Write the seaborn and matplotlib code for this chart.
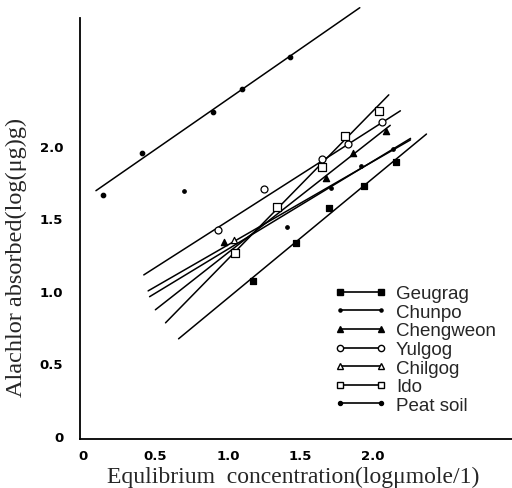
import numpy as np
import pandas as pd
import matplotlib
matplotlib.use('Agg')
import matplotlib.pyplot as plt
import seaborn as sns
from matplotlib.lines import Line2D

sns.set_style('white')
plt.rcParams['font.family'] = ['Liberation Sans', 'DejaVu Sans']

# ── DATA ──────────────────────────────────────────────────────
soils = ['Geugrag', 'Chunpo', 'Chengweon', 'Yulgog', 'Chilgog', 'Ido', 'Peat soil']

# measured points
geugrag_x = [1.17, 1.47, 1.70, 1.94, 2.16]
geugrag_y = [1.07, 1.33, 1.57, 1.72, 1.89]
chunpo_x = [0.70, 1.41, 1.71, 1.92, 2.14]
chunpo_y = [1.69, 1.44, 1.71, 1.86, 1.98]
chengweon_x = [0.97, 1.68, 1.86, 2.09]
chengweon_y = [1.34, 1.78, 1.95, 2.10]
yulgog_x = [0.93, 1.25, 1.65, 1.83, 2.06]
yulgog_y = [1.42, 1.70, 1.91, 2.01, 2.16]
chilgog_x = [1.04]
chilgog_y = [1.35]
ido_x = [1.05, 1.34, 1.65, 1.81, 2.04]
ido_y = [1.26, 1.58, 1.85, 2.07, 2.24]
peat_x = [0.14, 0.41, 0.90, 1.10, 1.43]
peat_y = [1.66, 1.95, 2.23, 2.39, 2.61]

# fitted lines (start / end)
geugrag_fit_x, geugrag_fit_y = [0.66, 2.37], [0.67, 2.08]
chunpo_fit_x, chunpo_fit_y = [0.45, 2.26], [1.00, 2.04]
chengweon_fit_x, chengweon_fit_y = [0.50, 2.12], [0.87, 2.14]
yulgog_fit_x, yulgog_fit_y = [0.42, 2.19], [1.11, 2.24]
chilgog_fit_x, chilgog_fit_y = [0.46, 2.26], [0.96, 2.05]
ido_fit_x, ido_fit_y = [0.57, 2.11], [0.78, 2.35]
peat_fit_x, peat_fit_y = [0.09, 1.91], [1.69, 2.95]

xticks = [0, 0.5, 1.0, 1.5, 2.0]
xtick_labels = ['0', '0.5', '1.0', '1.5', '2.0']
yticks = [0, 0.5, 1.0, 1.5, 2.0]
ytick_labels = ['0', '0.5', '1.0', '1.5', '2.0']

points = {
    'Geugrag': (geugrag_x, geugrag_y),
    'Chunpo': (chunpo_x, chunpo_y),
    'Chengweon': (chengweon_x, chengweon_y),
    'Yulgog': (yulgog_x, yulgog_y),
    'Chilgog': (chilgog_x, chilgog_y),
    'Ido': (ido_x, ido_y),
    'Peat soil': (peat_x, peat_y),
}
fits = {
    'Geugrag': (geugrag_fit_x, geugrag_fit_y),
    'Chunpo': (chunpo_fit_x, chunpo_fit_y),
    'Chengweon': (chengweon_fit_x, chengweon_fit_y),
    'Yulgog': (yulgog_fit_x, yulgog_fit_y),
    'Chilgog': (chilgog_fit_x, chilgog_fit_y),
    'Ido': (ido_fit_x, ido_fit_y),
    'Peat soil': (peat_fit_x, peat_fit_y),
}

# marker style per soil: marker, size, face colour
style = {
    'Geugrag': ('s', 4.5, 'black'),
    'Chunpo': ('o', 2.5, 'black'),
    'Chengweon': ('^', 4.5, 'black'),
    'Yulgog': ('o', 5, 'white'),
    'Chilgog': ('^', 4.5, 'white'),
    'Ido': ('s', 5.5, 'white'),
    'Peat soil': ('o', 3.2, 'black'),
}

pts_df = pd.concat([pd.DataFrame({'x': v[0], 'y': v[1], 'soil': k}) for k, v in points.items()])
fit_df = pd.concat([pd.DataFrame({'x': v[0], 'y': v[1], 'soil': k}) for k, v in fits.items()])

# ── PLOT ──────────────────────────────────────────────────────
fig = plt.figure(figsize=(5.12, 4.89), dpi=100)
ax = fig.add_axes([80 / 512, 49 / 489, 432 / 512, 440 / 489])

for s in soils:
    d = fit_df[fit_df['soil'] == s]
    sns.lineplot(data=d, x='x', y='y', ax=ax, color='black',
                 lw=1.1, sort=False, estimator=None)
for s in soils:
    d = pts_df[pts_df['soil'] == s]
    m, ms, fc = style[s]
    sns.scatterplot(data=d, x='x', y='y', ax=ax, marker=m, s=ms ** 2,
                    color=fc, edgecolor='black', linewidth=0.9, zorder=3)

ax.set_xlim(-0.02, 2.96)
ax.set_ylim(-0.02, 3.01)
sns.despine(ax=ax)
ax.spines['left'].set_bounds(-0.02, 2.88)
for sp in ['left', 'bottom']:
    ax.spines[sp].set_color('black')
    ax.spines[sp].set_linewidth(1.3)

ax.set_xticks(xticks)
ax.set_xticklabels(xtick_labels)
ax.set_yticks(yticks)
ax.set_yticklabels(ytick_labels)
ax.tick_params(direction='in', length=3, width=1, colors='black',
               labelsize=9.5)
ax.tick_params(axis='y', pad=12)
ax.tick_params(axis='x', pad=7)
for t in ax.get_xticklabels() + ax.get_yticklabels():
    t.set_family('DejaVu Sans')
    t.set_fontweight('bold')
ax.set_xlabel('')
ax.set_ylabel('')

fig.text(293 / 512, 1 - 477 / 489, 'Equlibrium  concentration(log\u03bcmole/1)',
         ha='center', va='center', fontsize=17, family='Liberation Serif')
fig.text(16 / 512, 1 - 257 / 489, 'Alachlor absorbed(log(\u03bcg)g)',
         ha='center', va='center', rotation=90, fontsize=17.5,
         family='Liberation Serif')

handles = []
for s in soils:
    m, ms, fc = style[s]
    handles.append(Line2D([], [], color='black', lw=1.2,
                          marker=m, markersize=ms * 0.9, markerfacecolor=fc,
                          markeredgecolor='black'))
ax.legend(handles, soils, loc='upper left',
          bbox_to_anchor=(321 / 512, 1 - 273 / 489),
          bbox_transform=fig.transFigure, frameon=False, fontsize=13.5,
          numpoints=2, handlelength=2.8, labelspacing=0.08,
          handletextpad=0.5, borderpad=0.2)

fig.savefig('out.png', dpi=100, facecolor='white')
